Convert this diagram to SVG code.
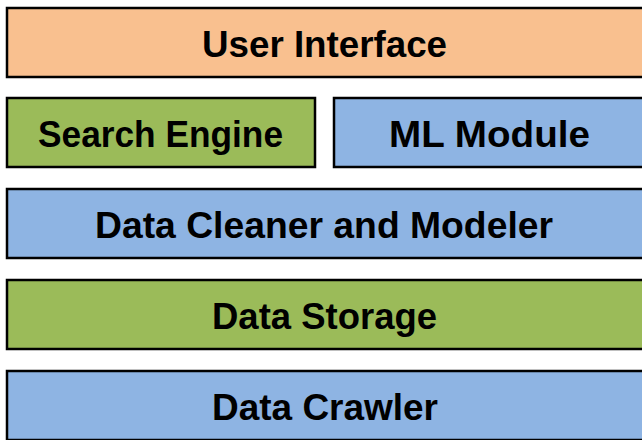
<svg xmlns="http://www.w3.org/2000/svg" width="642" height="440" viewBox="0 0 642 440">
<style>
rect.b{stroke:#000;stroke-width:2.5}
.o{fill:#F9C08F}.g{fill:#9BBB59}.u{fill:#8EB4E3}
text{font-family:"Liberation Sans",Arial,sans-serif;font-weight:bold;font-size:37px;fill:#000;text-anchor:middle}
</style>
<rect width="642" height="440" fill="#fff"/>
<g id="user-interface"><rect class="b o" x="7" y="8" width="640" height="69"/><text x="324.5" y="57" textLength="245" lengthAdjust="spacingAndGlyphs">User Interface</text></g>
<g id="search-engine"><rect class="b g" x="7" y="98" width="308" height="69"/><text x="160.5" y="147" textLength="245" lengthAdjust="spacingAndGlyphs">Search Engine</text></g>
<g id="ml-module"><rect class="b u" x="334" y="98" width="313" height="69"/><text x="489.5" y="147" textLength="201" lengthAdjust="spacingAndGlyphs">ML Module</text></g>
<g id="data-cleaner"><rect class="b u" x="7" y="189" width="640" height="69"/><text x="324" y="238" textLength="458" lengthAdjust="spacingAndGlyphs">Data Cleaner and Modeler</text></g>
<g id="data-storage"><rect class="b g" x="7" y="280" width="640" height="69"/><text x="324.5" y="329" textLength="225" lengthAdjust="spacingAndGlyphs">Data Storage</text></g>
<g id="data-crawler"><rect class="b u" x="7" y="371" width="640" height="69"/><text x="325" y="420" textLength="226" lengthAdjust="spacingAndGlyphs">Data Crawler</text></g>
<g id="connectors"/>
</svg>
